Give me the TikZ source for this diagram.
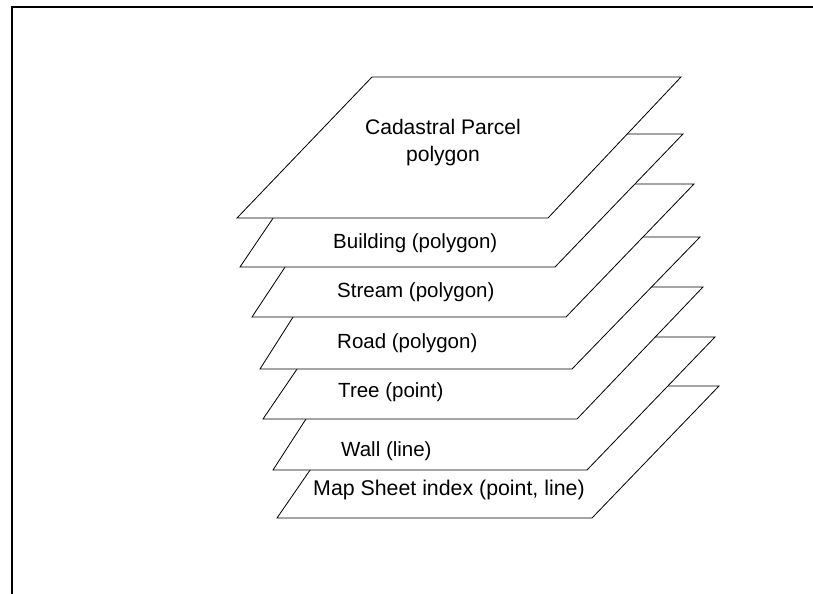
\documentclass[tikz,border=0pt]{standalone}
\usepackage{fontspec}
\setmainfont{Liberation Sans}

\begin{document}
\begin{tikzpicture}[x=0.03cm, y=-0.03cm,
  layer/.style={draw, fill=white, line width=0.7pt, line join=miter},
  lbl/.style={inner sep=0pt, anchor=base west, font=\fontsize{17.5}{21}\selectfont}]
  \useasboundingbox (0,0) rectangle (813,594);
  % frame
  \draw[line width=2.3pt] (12,594) -- (12,7) -- (813,7);

  % sheets, bottom one first so that each one hides the one below
  \draw[layer] (368,386) -- (719,386) -- (592,518) -- (277,518) -- cycle;
  \node[lbl, font=\fontsize{18.2}{21}\selectfont] (mapsheet) at (313,495)
    {Map Sheet index (point, line)};

  \draw[layer] (359,337) -- (715,337) -- (587,470) -- (273,470) -- cycle;
  \node[lbl] (wall) at (341,456) {Wall (line)};

  \draw[layer] (353,287) -- (703,287) -- (577,419) -- (263,419) -- cycle;
  \node[lbl] (tree) at (338,397) {Tree (point)};

  \draw[layer] (344,237) -- (700,237) -- (572,369) -- (260,369) -- cycle;
  \node[lbl] (road) at (337,348) {Road (polygon)};

  \draw[layer] (340,184) -- (694,184) -- (566,317) -- (252,317) -- cycle;
  \node[lbl] (stream) at (337,297) {Stream (polygon)};

  \draw[layer] (330,134) -- (683,134) -- (555,267) -- (240,267) -- cycle;
  \node[lbl] (building) at (333,248) {Building (polygon)};

  \draw[layer] (372,77) -- (681,77) -- (548,218) -- (237,218) -- cycle;
  \node[align=center, inner sep=0pt, font=\fontsize{18}{23}\selectfont]
    (parcel) at (443,143) {Cadastral Parcel\\polygon};
\end{tikzpicture}
\end{document}
